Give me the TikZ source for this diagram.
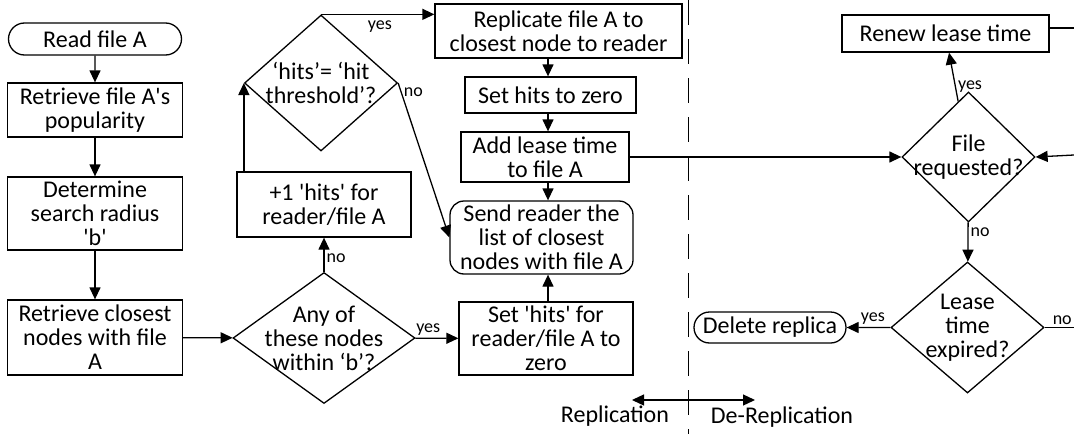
\documentclass[tikz,border=0pt]{standalone}
\usepackage{fontspec}
\setmainfont{Carlito}
\usetikzlibrary{positioning,arrows.meta,shapes.geometric,shapes.misc}
\newcommand{\ap}{\textquotesingle}

\begin{document}
\begin{tikzpicture}[x=1pt,y=-1pt,>={Triangle[length=12pt,width=11pt]},line width=1.3pt,
  every node/.style={font=\fontsize{24}{24}\selectfont},
  box/.style={draw,align=center,inner sep=1pt},
  term/.style={draw,rounded rectangle,align=center,inner sep=1pt},
  dec/.style={draw,diamond,inner sep=0pt},
  dectext/.style={align=center,inner sep=0pt},
  lbl/.style={font=\fontsize{18}{20}\selectfont,inner sep=2pt}]
\useasboundingbox (0,0) rectangle (1074,434);

% replication side, left column
\node[term,minimum width=175pt,minimum height=32pt] (read) at (95,39) {Read file A};
\node[box,minimum width=175pt,minimum height=54pt] (pop) at (95,110) {Retrieve file A\ap s\\popularity};
\node[box,minimum width=175pt,minimum height=73pt] (rad) at (95,213.5) {Determine\\search radius\\\ap b\ap};
\node[box,minimum width=175pt,minimum height=75pt] (clo) at (95,337.5) {Retrieve closest\\nodes with file\\A};

% decisions on hits
\node[dec,minimum width=182pt,minimum height=131pt,
  label={[dectext]center:Any of\\these nodes\\within `b'?}] (any) at (324,338) {};
\node[box,minimum width=174pt,minimum height=65pt] (inc) at (324,204.5) {+1 \ap hits\ap{} for\\reader/file A};
\node[dec,minimum width=153pt,minimum height=136pt,
  label={[dectext]center:`hits'= `hit\\threshold'?}] (hit) at (321,83) {};

% middle column
\coordinate (ax) at (548,0);
\node[box,minimum width=247pt,minimum height=54pt] (rep) at (558.5,31) {Replicate file A to\\closest node to reader};
\node[box,minimum width=171pt,minimum height=36pt] (zero) at (550.5,95) {Set hits to zero};
\node[box,minimum width=168pt,minimum height=50pt] (add) at (545,157) {Add lease time\\to file A};
\node[draw,rounded corners=14pt,align=center,inner sep=1pt,minimum width=183pt,minimum height=73pt] (send) at (541.5,237.5) {Send reader the\\list of closest\\nodes with file A};
\node[box,minimum width=174pt,minimum height=73pt] (rst) at (546,338.5) {Set \ap hits\ap{} for\\reader/file A to\\zero};

% de-replication side
\node[box,minimum width=207pt,minimum height=37pt] (renew) at (945.5,33.5) {Renew lease time};
\node[dec,minimum width=133pt,minimum height=130pt,
  label={[dectext]center:File\\requested?}] (req) at (968.5,157) {};
\node[dec,minimum width=153pt,minimum height=131pt,
  label={[dectext]center:Lease\\time\\expired?}] (exp) at (967.5,327.5) {};
\node[term,minimum width=154pt,minimum height=31pt] (del) at (770,327.5) {Delete replica};
\coordinate (rr) at (1074,28);
\coordinate (rq) at (1074,155);
\coordinate (rx) at (1074,327.5);

% separator and captions
\coordinate (sep) at (688,400);
\draw[line width=0.9pt,dash pattern=on 25pt off 14pt] (688,0) -- (688,434);
\node (repl) at (615,416) {Replication};
\node (derepl) at (782,417) {De-Replication};
\draw[->] (sep) -- (632,400);
\draw[->] (sep) -- (755,400);

% connectors
\draw[->] (read) -- (pop);
\draw[->] (pop) -- (rad);
\draw[->] (rad) -- (clo);
\draw[->] (clo) -- (any);
\draw[->] (any) -- node[lbl,right,pos=.4]{no} (inc);
\draw[->] (any) -- node[lbl,above,pos=.3]{yes} (rst);
\draw[->] (inc.north -| hit.west) -- (hit.west);
\draw[->] (hit.north) -- node[lbl,below=4pt,pos=.52]{yes} (hit.north -| rep.west);
\draw[->] (hit.east) -- node[lbl,right,pos=.06]{no} (send.west);
\draw[->] (rep.south -| ax) -- (zero.north -| ax);
\draw[->] (zero.south -| ax) -- (add.north -| ax);
\draw[->] (add.south -| ax) -- (send.north -| ax);
\draw[->] (rst.north -| ax) -- (send.south -| ax);
\draw[->] (add) -- (req);
\draw[->] (req) -- node[lbl,right,pos=.3]{yes} (renew);
\draw[->] (req) -- node[lbl,right,pos=.25]{no} (exp);
\draw[->] (exp) -- node[lbl,above,pos=.4]{yes} (del);
\draw (exp) -- node[lbl,above,pos=.6]{no} (rx);
\draw[->] (rq) -- (req.east);
\draw (renew.east |- rr) -- (rr);
\end{tikzpicture}
\end{document}
